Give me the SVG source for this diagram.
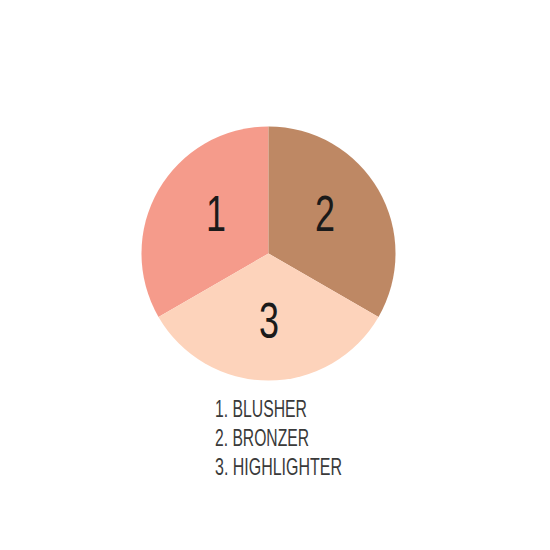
<svg xmlns="http://www.w3.org/2000/svg" width="550" height="550" viewBox="0 0 550 550">
<style>
.digit{font-family:"Liberation Sans",Arial,sans-serif;font-size:50px;fill:#1a1a1a;text-anchor:middle}
.legend{font-family:"Liberation Sans",Arial,sans-serif;font-size:24px;fill:#3a3a3a}
</style>
<rect width="550" height="550" fill="#ffffff"/>
<g id="blusher">
<path d="M268.5 253.5 L268.5 126.5 A127 127 0 0 0 158.5 317 Z" fill="#F59B8B"/>
<text class="digit" transform="translate(216 231) scale(0.72 1)">1</text>
</g>
<g id="bronzer">
<path d="M268.5 253.5 L268.5 126.5 A127 127 0 0 1 378.5 317 Z" fill="#BE8864"/>
<text class="digit" transform="translate(325 231) scale(0.72 1)">2</text>
</g>
<g id="highlighter">
<path d="M268.5 253.5 L378.5 317 A127 127 0 0 1 158.5 317 Z" fill="#FDD3BB"/>
<text class="digit" transform="translate(269 338) scale(0.72 1)">3</text>
</g>
<g id="legend">
<text class="legend" x="215" y="417" textLength="92" lengthAdjust="spacingAndGlyphs">1. BLUSHER</text>
<text class="legend" x="215" y="446" textLength="94" lengthAdjust="spacingAndGlyphs">2. BRONZER</text>
<text class="legend" x="215" y="475" textLength="127" lengthAdjust="spacingAndGlyphs">3. HIGHLIGHTER</text>
</g>
</svg>
